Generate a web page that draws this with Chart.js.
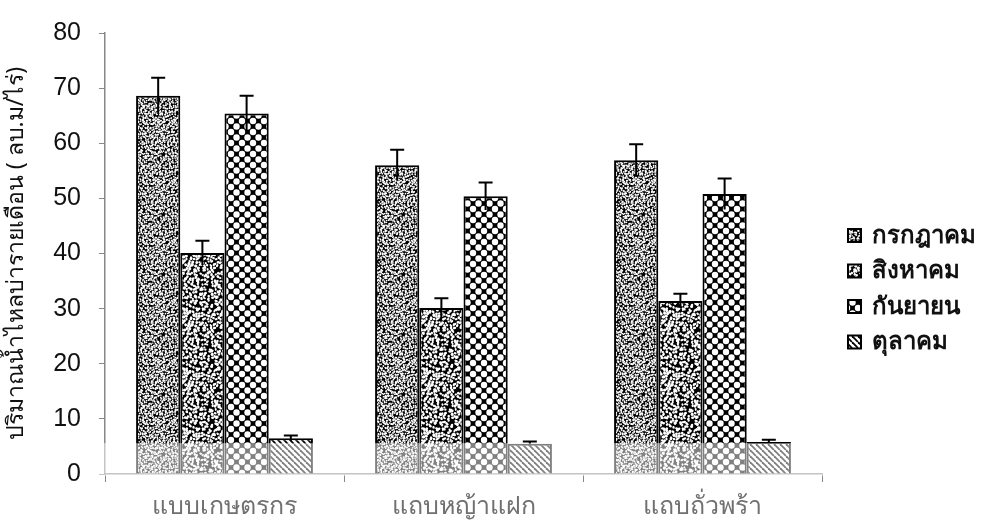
<!DOCTYPE html>
<html>
<head>
<meta charset="utf-8">
<script src="https://cdn.jsdelivr.net/npm/chart.js@4.4.1/dist/chart.umd.min.js"></script>
<style>
  html, body { margin: 0; padding: 0; background: #fff; }
  #wrap { width: 999px; height: 529px; }
</style>
</head>
<body>
<div id="wrap"><canvas id="runoffChart" width="999" height="529"></canvas></div>
<script>
const categories = ['แบบเกษตรกร', 'แถบหญ้าแฝก', 'แถบถั่วพร้า'];
const months = ['กรกฎาคม', 'สิงหาคม', 'กันยายน', 'ตุลาคม'];

const julValues = [68.6, 56.0, 56.9];
const augValues = [40.1, 30.1, 31.4];
const sepValues = [65.4, 50.4, 50.8];
const octValues = [6.5, 5.5, 5.8];

const julErr = [3.3, 2.8, 2.9];
const augErr = [2.2, 1.8, 1.3];
const sepErr = [3.2, 2.5, 2.8];
const octErr = [0.5, 0.4, 0.4];

const yTicks = [0, 10, 20, 30, 40, 50, 60, 70, 80];
const fadeLevel = 5.6; // scan fades the bottom of the figure

// simple LCG so the textures look the same on every run
function lcg(seed) {
    let s = seed;
    return () => { s = (s * 1103515245 + 12345) % 2147483648; return s / 2147483648; };
}

// black tile with jittered white specks, one try per grid cell
function speckle(size, cell, seed, rMin, rMax, chance) {
    const c = document.createElement('canvas');
    c.width = c.height = size;
    const g = c.getContext('2d');
    g.fillStyle = '#000';
    g.fillRect(0, 0, size, size);
    g.fillStyle = '#fff';
    const rnd = lcg(seed);
    for (let cy = 0; cy < size; cy += cell) {
        for (let cx = 0; cx < size; cx += cell) {
            if (rnd() > chance) continue;
            const x = cx + rnd() * cell, y = cy + rnd() * cell;
            const rx = rMin + rnd() * (rMax - rMin), ry = rMin + rnd() * (rMax - rMin);
            const rot = rnd() * Math.PI;
            [[0, 0], [size, 0], [-size, 0], [0, size], [0, -size]].forEach(([dx, dy]) => {
                g.beginPath();
                g.ellipse(x + dx, y + dy, rx, ry, rot, 0, Math.PI * 2);
                g.fill();
            });
        }
    }
    return g.createPattern(c, 'repeat');
}

function circles() {
    const c = document.createElement('canvas');
    c.width = 11; c.height = 11;
    const g = c.getContext('2d');
    g.fillStyle = '#000';
    g.fillRect(0, 0, 11, 11);
    g.fillStyle = '#fff';
    [[0, 0], [11, 0], [0, 11], [11, 11], [5.5, 5.5]].forEach(([x, y]) => {
        g.beginPath(); g.arc(x, y, 3.2, 0, Math.PI * 2); g.fill();
    });
    return g.createPattern(c, 'repeat');
}

function stripes() {
    const c = document.createElement('canvas');
    c.width = 6; c.height = 6;
    const g = c.getContext('2d');
    g.fillStyle = '#fff';
    g.fillRect(0, 0, 6, 6);
    g.strokeStyle = '#000';
    g.lineWidth = 1.8;
    for (let k = -6; k <= 6; k += 6) {
        g.beginPath(); g.moveTo(k, 0); g.lineTo(k + 6, 6); g.stroke();
    }
    return g.createPattern(c, 'repeat');
}

const ctx = document.getElementById('runoffChart').getContext('2d');
const fills = [
    speckle(60, 2, 7, 0.7, 1.2, 0.95),
    speckle(60, 3, 19, 1.0, 1.7, 0.95),
    circles(),
    stripes()
];
const seriesValues = [julValues, augValues, sepValues, octValues];
const seriesErr = [julErr, augErr, sepErr, octErr];

const errorBars = {
    id: 'errorBars',
    afterDatasetsDraw(chart) {
        const g = chart.ctx, y = chart.scales.y;
        g.save();
        g.strokeStyle = '#000';
        g.lineWidth = 2;
        chart.data.datasets.forEach((ds, i) => {
            chart.getDatasetMeta(i).data.forEach((bar, j) => {
                const v = ds.data[j], e = seriesErr[i][j];
                const top = y.getPixelForValue(v + e), bot = y.getPixelForValue(v - e);
                g.beginPath();
                g.moveTo(bar.x, bot); g.lineTo(bar.x, top);
                g.moveTo(bar.x - 7, top); g.lineTo(bar.x + 7, top);
                g.stroke();
            });
        });
        g.restore();
    }
};

const fadeBand = {
    id: 'fadeBand',
    afterDatasetsDraw(chart) {
        const g = chart.ctx, a = chart.chartArea, y = chart.scales.y;
        const top = y.getPixelForValue(fadeLevel);
        g.save();
        g.fillStyle = 'rgba(255,255,255,0.5)';
        g.fillRect(a.left - 8, top, a.right - a.left + 16, y.getPixelForValue(0) - top + 2);
        g.restore();
    }
};

const sideLegend = {
    id: 'sideLegend',
    afterDraw(chart) {
        const g = chart.ctx;
        g.save();
        g.font = 'bold 24px "Noto Sans", sans-serif';
        g.textBaseline = 'middle';
        chart.data.datasets.forEach((ds, i) => {
            const cy = 235 + i * 35.5;
            g.fillStyle = ds.backgroundColor;
            g.fillRect(848, cy - 6, 13, 13);
            g.strokeStyle = '#000';
            g.lineWidth = 2;
            g.strokeRect(848, cy - 6, 13, 13);
            g.fillStyle = '#111';
            g.fillText(ds.label, 872, cy + 1);
        });
        g.restore();
    }
};

new Chart(ctx, {
    type: 'bar',
    data: {
        labels: categories,
        datasets: months.map((m, i) => ({
            label: m,
            data: seriesValues[i],
            backgroundColor: fills[i],
            borderColor: '#000',
            borderWidth: 2,
            borderSkipped: 'bottom'
        }))
    },
    options: {
        responsive: false,
        animation: false,
        categoryPercentage: 0.74,
        barPercentage: 1.0,
        layout: { padding: { top: 23, right: 177, left: 0, bottom: 0 } },
        plugins: { legend: { display: false }, tooltip: { enabled: false } },
        scales: {
            x: {
                afterFit: s => { s.height = 55; },
                grid: { display: true, offset: true, drawOnChartArea: false, tickLength: 8, color: '#888' },
                border: { color: '#888', width: 1.5 },
                ticks: { color: '#707070', padding: 10, font: { family: '"Noto Sans", sans-serif', size: 25 } }
            },
            y: {
                min: 0,
                max: 80,
                afterFit: s => { s.width = 105; },
                afterBuildTicks: s => { s.ticks = yTicks.map(v => ({ value: v })); },
                grid: { drawOnChartArea: false, tickLength: 6, color: '#888' },
                border: { color: '#888', width: 1.5 },
                ticks: { color: '#111', padding: 18, font: { family: 'Arial, "Liberation Sans", sans-serif', size: 25 } },
                title: {
                    display: true,
                    text: 'ปริมาณน้ำไหลบ่ารายเดือน ( ลบ.ม/ไร่)',
                    color: '#111',
                    padding: { top: 3, bottom: 0 },
                    font: { family: '"Noto Sans", sans-serif', size: 23 }
                }
            }
        }
    },
    plugins: [errorBars, fadeBand, sideLegend]
});
</script>
</body>
</html>
